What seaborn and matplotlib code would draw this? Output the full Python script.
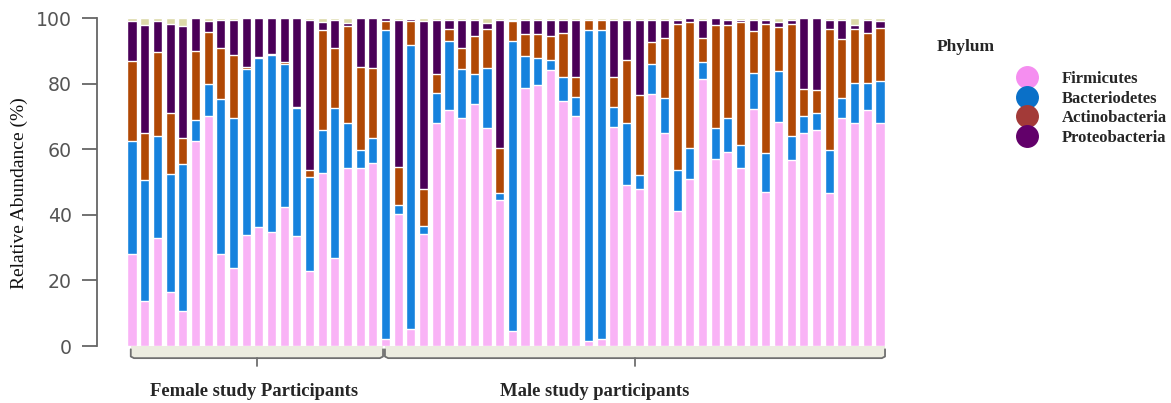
import numpy as np
import pandas as pd
import seaborn as sns
import matplotlib.pyplot as plt
from matplotlib.lines import Line2D

# ---------------- data (relative abundance %, per participant) ----------------
participants = [f"F{i}" for i in range(1, 21)] + [f"M{i}" for i in range(1, 41)]

firmicutes = [28, 13.8, 32.9, 16.6, 10.7, 62.4, 70, 27.9, 23.8, 33.7,
              36.2, 34.7, 42.3, 33.4, 22.8, 52.6, 26.8, 54.2, 54.2, 55.8,
              2, 40.3, 5.1, 34.2, 68, 71.9, 69.4, 73.8, 66.6, 44.6,
              4.6, 78.8, 79.6, 84.2, 74.7, 70, 1.5, 2, 66.8, 49,
              48, 76.7, 65, 41.3, 50.8, 81.3, 57.1, 59.2, 54.4, 72.2,
              47.1, 68.2, 56.8, 65, 65.8, 46.6, 69.4, 67.9, 71.9, 67.9]
bacteriodetes = [34.4, 36.7, 31.1, 35.7, 44.9, 6.5, 10, 47.3, 45.6, 50.9,
                 51.6, 53.9, 43.7, 39.1, 28.7, 13.2, 45.7, 13.7, 5.5, 7.5,
                 94.4, 2.6, 86.7, 2.5, 9, 21, 15, 9.1, 18.3, 2,
                 88.4, 9.7, 8.2, 3, 7.2, 6, 94.9, 94.4, 6.2, 18.9,
                 4, 9.3, 10.5, 12.3, 9.6, 5.4, 9.5, 10.4, 6.8, 11,
                 11.6, 15.5, 7.2, 5.1, 5.3, 13.1, 6.1, 12.4, 8.4, 13]
actinobacteria = [24.6, 14.3, 25.5, 18.7, 7.7, 20.9, 15.6, 15.8, 19.2, 0.4,
                  0.3, 0.3, 0.7, 0.3, 2.1, 30.4, 18.5, 29.8, 25.5, 21.6,
                  2.6, 11.7, 7.2, 11.3, 5.9, 3.8, 6.6, 11.7, 11.8, 13.8,
                  6, 6.7, 7.2, 7.2, 13.5, 5.9, 2.9, 2.9, 9.1, 19.3,
                  24.5, 6.7, 18.4, 44.7, 38.3, 7.2, 31.4, 28.4, 37.5, 12.7,
                  39.6, 13.5, 34.3, 8.2, 6.8, 36.9, 18.2, 16.4, 15.1, 16]
proteobacteria = [12, 33.2, 9.5, 27.3, 34.4, 10.2, 3.4, 8.5, 10.9, 15,
                  11.9, 11.1, 13.3, 27.2, 45.9, 2.6, 8.5, 0.8, 14.8, 15.1,
                  1, 44.9, 0.7, 51, 16.6, 2.8, 8.5, 4.9, 1.8, 39.1,
                  0.5, 4.3, 4.5, 5.1, 4.1, 17.6, 0.2, 0.2, 17.4, 12.3,
                  23, 6.8, 5.6, 1.2, 1.3, 5.6, 2, 1.5, 0.8, 3.6,
                  1.2, 1.5, 1.2, 21.7, 22.1, 2.9, 5.8, 1.3, 4.1, 2.1]
others = [1, 2, 1, 1.7, 2.3, 0, 1, 0.5, 0.5, 0,
          0, 0, 0, 0, 0.5, 1.2, 0.5, 1.5, 0, 0,
          0, 0.5, 0.3, 1, 0.5, 0.5, 0.5, 0.5, 1.5, 0.5,
          0.5, 0.5, 0.5, 0.5, 0.5, 0.5, 0.5, 0.5, 0.5, 0.5,
          0.5, 0.5, 0.5, 0.5, 0, 0.5, 0, 0.5, 0.5, 0.5,
          0.5, 1.3, 0.5, 0, 0, 0.5, 0.5, 2, 0.5, 1]

phyla = ["Firmicutes", "Bacteriodetes", "Actinobacteria", "Proteobacteria"]
groups = ["Female study Participants", "Male study participants"]
group_sizes = [20, 40]
yticks = [0, 20, 40, 60, 80, 100]

bar_colors = ["#F9B3F6", "#1682DD", "#B04805", "#4A0058"]
other_color = "#DCD9A8"
legend_colors = ["#F58EF0", "#0A70C8", "#A33A38", "#62006A"]

# ---------------- build cumulative layers ----------------
df = pd.DataFrame({"participant": participants,
                   phyla[0]: firmicutes, phyla[1]: bacteriodetes,
                   phyla[2]: actinobacteria, phyla[3]: proteobacteria,
                   "Other": others})
layers = phyla + ["Other"]
cum = df[layers].cumsum(axis=1)

sns.set_style("white")
fig = plt.figure(figsize=(11.71, 4.03), dpi=100)
ax = fig.add_axes([125.7 / 1171, 1 - 346 / 403, 760.6 / 1171, 328 / 403])

layer_colors = bar_colors + [other_color]
for name, col in reversed(list(zip(layers, layer_colors))):
    sns.barplot(x=df["participant"], y=cum[name], order=participants,
                color=col, saturation=1, width=0.72, ax=ax, zorder=2)

ax.set_xlim(-0.5, len(participants) - 0.5)
ax.set_ylim(0, 100)
ax.set_xlabel("")
ax.set_ylabel("Relative Abundance (%)", family="Liberation Serif", fontsize=14,
              color="#111111")
ax.yaxis.set_label_coords((28 - 125.7) / 760.6, (346 - 193.5) / 328)
ax.set_xticks([])
ax.set_yticks(yticks)
ax.set_yticklabels([str(t) for t in yticks])
ax.tick_params(axis="y", length=11, width=1.3, color="#666666", pad=7, left=True,
               labelsize=13.6, labelcolor="#555555")
for lab in ax.get_yticklabels():
    lab.set_family("Liberation Sans")
for s in ["top", "right", "bottom"]:
    ax.spines[s].set_visible(False)
ax.spines["left"].set_position(("outward", 20.7))
ax.spines["left"].set_color("#666666")
ax.spines["left"].set_linewidth(1.3)

# ---------------- group brackets ----------------
bracket_bounds = [(-0.1, 19.8), (19.95, 59.4)]
for (x0, x1) in bracket_bounds:
    xc = (x0 + x1) / 2
    ax.fill_between([x0, x1], -3.7, 0, color="#ECECE0", clip_on=False, zorder=1, lw=0)
    ax.plot([x0, x0, x0 + 0.25, x1 - 0.25, x1, x1],
            [-1.0, -3.2, -3.7, -3.7, -3.2, -1.0],
            color="#707070", lw=1.3, clip_on=False, zorder=3)
    ax.plot([xc, xc], [-3.7, -6.2], color="#707070", lw=1.3, clip_on=False, zorder=3)

fig.text(150 / 1171, 1 - 391 / 403, groups[0], family="Liberation Serif",
         fontweight="bold", fontsize=13.4, va="center", ha="left")
fig.text(500 / 1171, 1 - 391 / 403, groups[1], family="Liberation Serif",
         fontweight="bold", fontsize=13.4, va="center", ha="left")

# ---------------- legend ----------------
fig.text(937 / 1171, 1 - 47 / 403, "Phylum", family="Liberation Serif",
         fontweight="bold", fontsize=12.5, va="center", ha="left")
handles = [Line2D([0], [0], marker="o", linestyle="", markersize=15.5,
                  markerfacecolor=c, markeredgecolor=c) for c in legend_colors]
fig.legend(handles, phyla, loc="upper left",
           bbox_to_anchor=(1017 / 1171, 1 - 71 / 403), frameon=False,
           prop={"family": "Liberation Serif", "weight": "bold", "size": 12},
           handletextpad=1.5, labelspacing=0.22, borderpad=0, borderaxespad=0,
           handlelength=1.2)

fig.savefig("out.png", dpi=100)
